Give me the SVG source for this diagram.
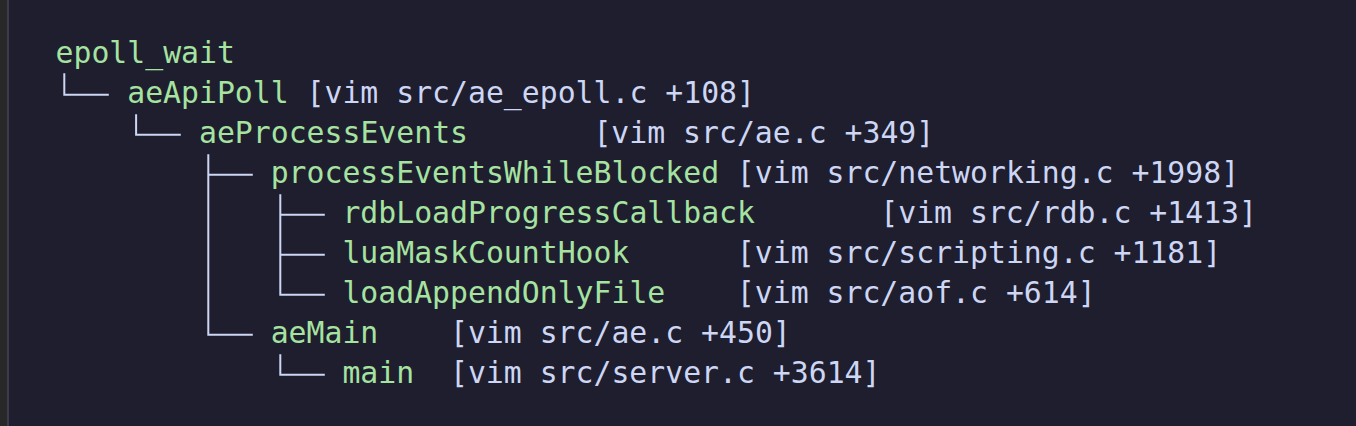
<svg xmlns="http://www.w3.org/2000/svg" width="1356" height="426" viewBox="0 0 1356 426">
<style>
text{font-family:"DejaVu Sans Mono","Liberation Mono",monospace;font-size:29.8px}
.fn{fill:#a6e3a1}
.loc{fill:#cdd6f4}
.tree{fill:none;stroke:#cdd6f4;stroke-width:2;stroke-linejoin:miter;stroke-linecap:butt}
</style>
<rect x="0" y="0" width="1356" height="426" fill="#1e1e2e"/>
<rect x="0" y="0" width="7" height="426" fill="#282828"/>
<rect x="7" y="0" width="2" height="426" fill="#3b3b4b"/>
<g id="connectors">
<path class="tree" d="M64.3,73.3 V94.8 H108.8"/>
<path class="tree" d="M136.1,114.3 V134.8 H180.8"/>
<path class="tree" d="M208.3,154.3 V334.8 H252.8 M208.3,174.8 H252.8"/>
<path class="tree" d="M280.3,194.3 V294.8 H324.8 M280.3,214.8 H324.8 M280.3,254.8 H324.8"/>
<path class="tree" d="M280.3,354.3 V374.8 H324.8"/>
</g>
<g id="node-epoll_wait"><text class="fn" x="55.5" y="63">epoll_wait</text></g>
<g id="node-aeApiPoll"><text class="fn" x="127.22" y="103">aeApiPoll</text><text class="loc" x="306.52" y="103">[vim src/ae_epoll.c +108]</text></g>
<g id="node-aeProcessEvents"><text class="fn" x="198.94" y="143">aeProcessEvents</text><text class="loc" x="593.4" y="143">[vim src/ae.c +349]</text></g>
<g id="node-processEventsWhileBlocked"><text class="fn" x="270.66" y="183">processEventsWhileBlocked</text><text class="loc" x="736.84" y="183">[vim src/networking.c +1998]</text></g>
<g id="node-rdbLoadProgressCallback"><text class="fn" x="342.38" y="223">rdbLoadProgressCallback</text><text class="loc" x="880.28" y="223">[vim src/rdb.c +1413]</text></g>
<g id="node-luaMaskCountHook"><text class="fn" x="342.38" y="263">luaMaskCountHook</text><text class="loc" x="736.84" y="263">[vim src/scripting.c +1181]</text></g>
<g id="node-loadAppendOnlyFile"><text class="fn" x="342.38" y="303">loadAppendOnlyFile</text><text class="loc" x="736.84" y="303">[vim src/aof.c +614]</text></g>
<g id="node-aeMain"><text class="fn" x="270.66" y="343">aeMain</text><text class="loc" x="449.96" y="343">[vim src/ae.c +450]</text></g>
<g id="node-main"><text class="fn" x="342.38" y="383">main</text><text class="loc" x="449.96" y="383">[vim src/server.c +3614]</text></g>
</svg>
